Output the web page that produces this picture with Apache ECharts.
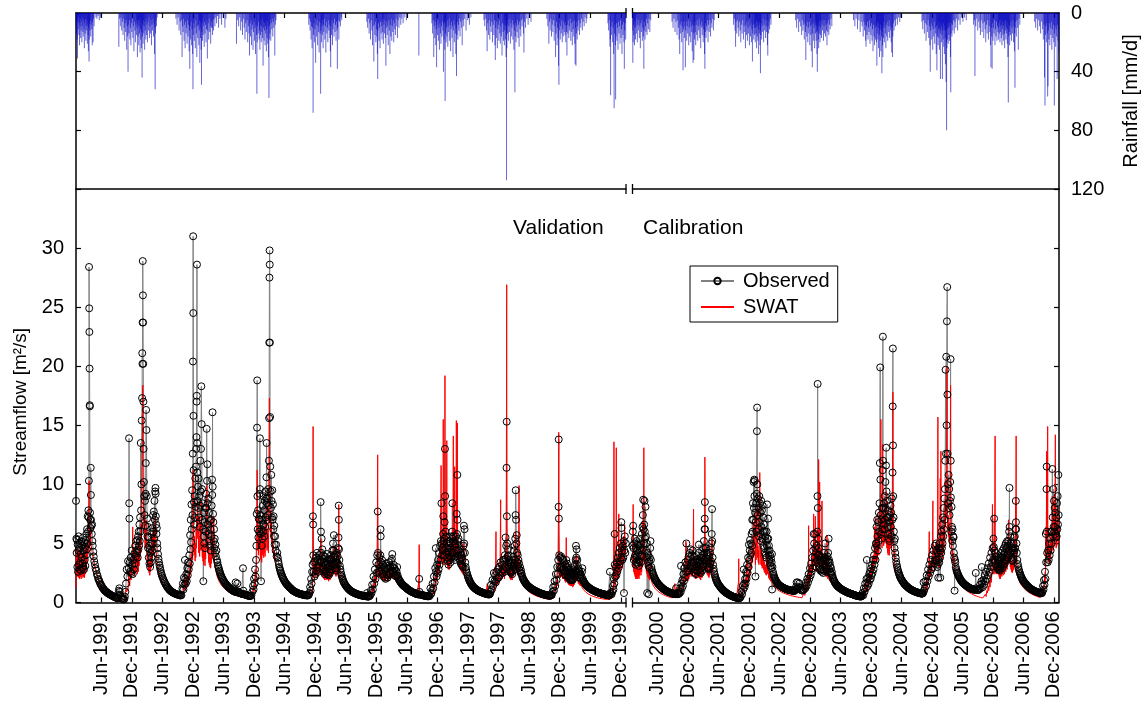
<!DOCTYPE html>
<html>
<head>
<meta charset="utf-8">
<script src="https://cdn.jsdelivr.net/npm/echarts@6/dist/echarts.min.js"></script>
<style>
html,body{margin:0;padding:0;background:#fff;}
#chart{width:1147px;height:704px;}
</style>
</head>
<body>
<div id="chart"></div>
<script>
// ---------------- DATA ----------------
const TICKS_VALIDATION = ['Jun-1991','Dec-1991','Jun-1992','Dec-1992','Jun-1993','Dec-1993','Jun-1994','Dec-1994','Jun-1995','Dec-1995','Jun-1996','Dec-1996','Jun-1997','Dec-1997','Jun-1998','Dec-1998','Jun-1999','Dec-1999'];
const TICKS_CALIBRATION = ['Jun-2000','Dec-2000','Jun-2001','Dec-2001','Jun-2002','Dec-2002','Jun-2003','Dec-2003','Jun-2004','Dec-2004','Jun-2005','Dec-2005','Jun-2006','Dec-2006'];
const FLOW_TICKS = [0,5,10,15,20,25,30];
const RAIN_TICKS = [0,40,80,120];
const YEARS_VALIDATION = [1991,1992,1993,1994,1995,1996,1997,1998,1999];
const YEARS_CALIBRATION = [2000,2001,2002,2003,2004,2005,2006];
const SERIES_NAMES = ['Observed','SWAT'];
const PERIOD_LABELS = ['Validation','Calibration'];

// Observed streamflow [day of year, m3/s]
const OBS_1991 = [[1,8.6],[3,5.4],[5,4.2],[7,5.3],[9,3.0],[11,4.9],[13,2.6],[15,4.4],[17,5.6],[19,3.2],[21,4.6],[23,2.8],[25,5.0],[27,3.4],[29,4.1],[31,2.7],[33,5.2],[35,3.8],[37,2.9],[39,4.8],[41,3.3],[43,5.5],[45,3.0],[47,4.4],[49,2.8],[51,5.1],[53,3.6],[55,4.7],[57,3.1],[59,5.3],[61,4.0],[63,5.8],[65,4.5],[67,6.2],[69,5.0],[71,7.3],[73,6.0],[75,7.8],[77,7.2],[78,10.3],[79,28.4],[80,24.9],[81,22.9],[82,19.8],[83,16.7],[84,16.6],[85,7.6],[86,7.0],[88,6.3],[89,11.4],[90,9.1],[91,7.0],[93,6.5],[95,5.8],[97,6.6],[99,5.2],[101,4.8],[104,4.3],[107,3.9],[110,3.5],[114,3.2],[118,2.9],[122,2.7],[126,2.4],[130,2.25],[134,2.0],[138,1.9],[142,1.75],[146,1.6],[150,1.5],[154,1.4],[158,1.3],[162,1.2],[166,1.15],[170,1.05],[174,1.0],[178,0.95],[182,0.9],[186,0.85],[190,0.8],[194,0.78],[198,0.72],[202,0.7],[206,0.66],[210,0.62],[214,0.6],[218,0.56],[222,0.54],[226,0.5],[230,0.48],[234,0.45],[238,0.42],[242,0.4],[246,0.37],[250,0.35],[254,0.6],[257,1.0],[260,1.2],[263,0.9],[266,0.6],[270,0.45],[274,0.35],[278,0.3],[282,0.28],[286,0.25],[290,0.3],[293,0.5],[296,0.9],[300,1.6],[304,2.8],[308,2.2],[312,3.5],[316,2.9],[318,13.9],[319,8.4],[320,7.1],[322,3.4],[325,2.6],[328,3.8],[331,2.5],[334,4.4],[337,3.2],[340,2.4],[343,3.6],[346,2.8],[349,4.1],[352,3.3],[355,4.8],[358,3.9],[361,5.2],[364,4.4]];
const OBS_1992 = [[1,4.2],[3,5.3],[5,3.8],[7,5.6],[9,4.5],[11,6.0],[13,4.8],[15,6.6],[17,5.2],[19,7.2],[21,6.0],[23,13.5],[25,7.8],[27,10.0],[29,15.4],[31,17.3],[32,21.1],[33,20.2],[34,23.7],[35,28.9],[36,26.0],[37,23.7],[38,20.2],[39,17.0],[40,13.0],[42,10.2],[44,9.0],[46,7.4],[48,8.6],[50,6.5],[52,9.2],[53,11.8],[55,16.3],[57,14.6],[59,9.0],[61,7.1],[63,5.6],[65,6.4],[67,4.6],[69,5.5],[71,3.8],[73,4.8],[75,3.3],[77,4.5],[79,3.0],[81,4.2],[83,3.4],[85,5.0],[87,3.8],[89,5.8],[91,4.4],[93,6.3],[95,5.0],[97,7.4],[99,6.0],[101,7.7],[103,5.4],[105,8.6],[107,7.0],[109,9.4],[111,9.7],[112,9.2],[113,7.3],[115,6.6],[117,5.8],[119,6.3],[121,5.0],[123,4.6],[126,4.1],[129,3.7],[132,3.4],[135,3.15],[138,2.95],[141,2.75],[144,2.55],[147,2.4],[150,2.25],[154,2.1],[158,1.95],[162,1.8],[166,1.7],[170,1.58],[174,1.48],[178,1.38],[182,1.3],[186,1.22],[190,1.15],[194,1.08],[198,1.02],[202,0.97],[206,0.93],[210,0.89],[214,0.85],[218,0.82],[222,0.79],[226,0.76],[230,0.74],[234,0.72],[238,0.7],[242,0.68],[246,0.66],[250,0.64],[254,0.62],[258,0.6],[262,0.6],[266,0.62],[272,1.2],[275,1.6],[278,1.1],[281,2.1],[284,1.5],[287,3.6],[289,2.0],[292,1.6],[295,2.4],[298,1.8],[301,2.9],[304,2.3],[307,3.4],[310,2.8],[313,4.0],[316,3.3],[318,5.7],[320,4.5],[322,7.0],[324,5.1],[326,8.3],[328,6.2],[330,9.5],[332,7.4],[334,12.6],[335,20.4],[336,31.0],[337,24.5],[338,15.8],[339,11.2],[341,8.5],[343,6.6],[345,9.0],[347,7.2],[349,10.5],[351,8.1],[353,11.5],[355,13.0],[356,14.0],[357,17.0],[358,17.5],[359,28.6],[360,13.5],[361,11.0],[363,8.6],[365,9.8]];
const OBS_1993 = [[1,8.0],[3,10.5],[5,7.2],[7,9.0],[9,6.4],[11,8.2],[13,12.0],[15,9.4],[17,13.0],[19,18.3],[21,15.1],[23,9.6],[25,7.0],[27,8.4],[29,6.2],[31,1.8],[33,5.6],[35,7.6],[37,5.0],[39,6.8],[41,4.6],[43,8.0],[45,6.0],[47,9.2],[49,8.0],[51,14.7],[53,10.3],[55,11.7],[57,8.4],[59,6.6],[61,8.8],[63,5.8],[65,7.6],[67,5.2],[69,6.9],[71,4.8],[73,6.2],[75,4.4],[77,7.0],[79,5.6],[81,8.2],[83,10.4],[84,9.1],[86,16.1],[87,9.8],[89,7.5],[91,6.8],[93,5.2],[95,6.2],[97,4.6],[99,5.4],[101,4.2],[103,4.9],[106,3.9],[109,4.4],[112,3.6],[115,3.4],[118,3.15],[121,3.0],[124,2.85],[127,2.7],[130,2.55],[133,2.42],[136,2.3],[139,2.2],[142,2.1],[146,2.0],[150,1.9],[154,1.8],[158,1.7],[162,1.62],[166,1.55],[170,1.48],[174,1.42],[178,1.36],[182,1.3],[186,1.25],[190,1.2],[194,1.15],[198,1.1],[202,1.06],[206,1.02],[210,0.98],[214,0.95],[218,0.92],[222,0.9],[224,1.7],[226,1.0],[230,0.88],[234,1.6],[236,0.95],[240,0.85],[244,0.83],[248,0.8],[252,0.78],[256,0.76],[260,0.74],[264,0.72],[268,2.9],[270,1.0],[274,0.7],[278,0.68],[282,0.66],[286,0.64],[290,0.62],[294,0.6],[298,0.58],[302,0.57],[306,0.56],[310,0.55],[314,0.56],[318,0.6],[324,0.9],[328,1.4],[331,1.1],[334,2.0],[337,1.6],[340,2.8],[343,2.2],[346,3.6],[348,4.8],[350,7.5],[352,14.8],[353,18.8],[354,9.0],[356,6.2],[358,7.8],[360,5.5],[362,7.1],[364,6.0]];
const OBS_1994 = [[1,7.0],[2,9.2],[4,13.9],[5,9.6],[7,7.4],[9,5.8],[11,1.8],[13,6.2],[15,4.8],[17,7.0],[19,5.4],[21,8.2],[23,6.0],[25,9.0],[27,6.6],[29,7.8],[31,5.6],[33,8.6],[35,6.4],[37,9.4],[39,7.2],[41,8.8],[43,10.6],[44,13.5],[46,8.4],[48,7.0],[50,8.8],[52,7.4],[54,9.6],[56,8.2],[58,12.0],[59,15.6],[60,22.0],[61,27.5],[62,29.8],[63,28.6],[64,22.0],[65,15.7],[66,11.5],[68,9.4],[70,8.0],[72,10.8],[74,8.6],[76,7.2],[78,9.5],[80,7.0],[82,8.3],[84,6.2],[86,7.3],[88,5.6],[90,6.5],[92,4.9],[95,5.6],[98,4.4],[101,4.9],[104,3.9],[108,4.2],[111,3.8],[114,3.5],[117,3.25],[120,3.0],[123,2.85],[126,2.7],[129,2.55],[132,2.42],[135,2.3],[138,2.2],[141,2.1],[144,2.0],[148,1.9],[152,1.8],[156,1.7],[160,1.62],[164,1.55],[168,1.48],[172,1.42],[176,1.36],[180,1.3],[184,1.25],[188,1.2],[192,1.14],[196,1.08],[200,1.03],[204,0.99],[208,0.95],[212,0.92],[216,0.89],[220,0.86],[224,0.83],[228,0.8],[232,0.78],[236,0.76],[240,0.75],[244,0.73],[248,0.71],[252,0.7],[256,0.68],[260,0.66],[264,0.65],[268,0.64],[272,0.62],[276,0.62],[280,0.61],[284,0.6],[288,0.6],[292,0.6],[296,0.65],[300,0.8],[304,1.3],[307,1.0],[310,2.0],[313,1.6],[316,2.6],[319,3.2],[321,7.3],[322,6.6],[323,4.0],[325,2.6],[327,3.4],[330,2.2],[333,3.5],[336,2.4],[339,3.8],[342,2.7],[345,4.2],[348,3.0],[351,3.6],[354,2.6],[357,4.0],[360,3.0],[363,3.4]];
const OBS_1995 = [[1,3.6],[2,8.5],[4,6.0],[6,4.2],[8,5.4],[10,3.4],[12,4.5],[14,3.0],[16,4.0],[18,2.8],[20,3.7],[22,2.6],[24,3.4],[26,2.4],[28,3.9],[30,2.7],[32,3.2],[34,2.5],[36,3.5],[38,2.6],[40,4.1],[42,2.9],[44,3.3],[46,2.4],[48,3.0],[50,2.3],[52,3.6],[54,2.6],[56,3.1],[58,2.5],[60,3.7],[62,2.8],[64,4.0],[66,3.1],[68,3.6],[70,2.8],[72,4.4],[74,3.3],[76,5.0],[78,3.8],[80,4.4],[81,5.7],[83,4.0],[85,3.2],[87,3.8],[89,2.9],[91,3.4],[93,2.7],[95,3.6],[97,2.9],[99,4.2],[101,3.4],[103,3.9],[105,3.2],[107,4.6],[109,5.5],[110,8.2],[111,7.0],[112,4.5],[114,3.6],[117,3.1],[120,2.8],[123,2.55],[126,2.35],[129,2.2],[132,2.05],[135,1.92],[138,1.8],[141,1.7],[144,1.62],[148,1.52],[152,1.44],[156,1.36],[160,1.28],[164,1.22],[168,1.16],[172,1.1],[176,1.05],[180,1.0],[184,0.96],[188,0.92],[192,0.89],[196,0.86],[200,0.83],[204,0.8],[208,0.78],[212,0.75],[216,0.73],[220,0.71],[224,0.69],[228,0.67],[232,0.65],[236,0.63],[240,0.62],[244,0.6],[248,0.59],[252,0.58],[256,0.57],[260,0.56],[264,0.55],[268,0.54],[272,0.53],[276,0.52],[279,0.8],[282,0.5],[286,0.5],[290,0.5],[294,0.55],[298,0.6],[302,1.0],[306,0.8],[310,1.5],[314,1.1],[318,2.2],[322,1.6],[326,2.8],[330,2.0],[334,3.4],[337,2.5],[340,4.0],[343,7.7],[345,4.2],[347,3.2],[350,2.6],[353,3.8],[356,2.7],[359,4.0],[360,6.2],[361,5.6],[363,3.4],[365,3.0]];
const OBS_1996 = [[1,2.8],[4,3.6],[7,2.4],[10,3.2],[13,2.2],[16,3.0],[19,2.1],[22,2.8],[25,2.0],[28,3.3],[31,2.4],[34,2.9],[37,2.1],[40,3.1],[43,2.3],[46,3.4],[49,2.5],[52,3.0],[55,2.4],[58,3.5],[61,2.7],[63,3.7],[65,4.1],[67,3.0],[70,2.6],[73,3.2],[76,2.5],[79,2.9],[82,2.3],[85,2.7],[88,2.2],[91,2.6],[94,3.0],[97,2.3],[100,2.1],[103,2.0],[106,1.92],[109,1.85],[112,1.78],[115,1.71],[118,1.65],[121,1.6],[124,1.55],[127,1.5],[130,1.46],[133,1.42],[136,1.38],[139,1.35],[142,1.32],[146,1.28],[150,1.22],[154,1.17],[158,1.12],[162,1.08],[166,1.04],[170,1.0],[174,0.97],[178,0.94],[182,0.9],[186,0.87],[190,0.84],[194,0.82],[198,0.8],[202,0.77],[206,0.75],[210,0.72],[214,0.7],[218,0.69],[222,0.68],[226,2.0],[228,0.9],[232,0.67],[236,0.66],[240,0.64],[244,0.62],[248,0.61],[252,0.6],[256,0.58],[260,0.57],[264,0.56],[268,0.55],[272,0.54],[276,0.53],[280,0.52],[284,0.53],[288,0.55],[293,1.2],[296,0.7],[299,0.8],[302,1.0],[306,1.6],[310,1.2],[314,2.2],[318,1.7],[322,2.9],[325,4.6],[327,2.6],[330,2.2],[333,3.2],[336,2.5],[339,3.6],[342,2.8],[345,4.2],[348,3.2],[351,4.8],[354,3.6],[356,5.2],[359,8.4],[361,5.0],[363,4.0],[365,4.6]];
const OBS_1997 = [[1,4.4],[3,5.8],[4,7.3],[6,5.2],[8,4.0],[10,5.4],[12,6.8],[14,13.0],[15,9.0],[17,6.0],[19,4.6],[21,5.6],[23,4.2],[25,5.0],[27,3.8],[29,4.6],[31,3.5],[33,4.3],[35,3.2],[37,4.8],[39,3.6],[41,5.2],[43,3.9],[45,4.6],[47,3.4],[49,5.0],[51,3.8],[53,5.6],[55,4.2],[57,6.0],[58,8.4],[60,5.4],[62,4.2],[64,5.6],[66,4.0],[68,5.2],[70,3.8],[72,4.8],[74,3.6],[76,5.0],[78,3.9],[80,5.6],[82,4.4],[84,7.5],[86,5.8],[88,10.8],[89,7.0],[91,5.2],[93,4.4],[95,5.4],[97,4.0],[99,4.8],[101,3.7],[103,4.5],[105,3.5],[107,4.2],[109,3.3],[111,4.0],[113,3.2],[115,3.8],[117,3.1],[119,3.6],[121,3.0],[123,4.2],[125,4.8],[127,6.5],[129,5.0],[131,6.2],[133,4.2],[135,3.4],[138,3.0],[141,2.75],[144,2.55],[147,2.4],[150,2.25],[153,2.12],[156,2.0],[159,1.9],[162,1.8],[165,1.72],[168,1.64],[171,1.56],[174,1.5],[177,1.44],[180,1.38],[184,1.32],[188,1.26],[192,1.21],[196,1.16],[200,1.12],[204,1.08],[208,1.04],[212,1.0],[216,0.97],[220,0.95],[224,0.92],[228,0.9],[232,0.87],[236,0.85],[240,0.83],[244,0.8],[248,0.78],[252,0.76],[256,0.75],[260,0.73],[264,0.72],[268,0.7],[272,0.69],[276,0.68],[280,0.68],[284,0.75],[286,0.9],[290,1.5],[294,1.1],[298,1.9],[302,1.4],[306,2.5],[310,1.8],[314,2.3],[318,1.7],[322,2.6],[326,2.0],[330,2.8],[334,2.1],[338,3.0],[342,2.3],[346,3.4],[350,2.6],[354,3.2],[358,2.5],[362,3.6],[365,2.8]];
const OBS_1998 = [[1,2.8],[3,3.6],[5,2.6],[7,4.0],[9,3.0],[11,5.5],[13,3.7],[15,4.8],[17,11.4],[18,15.3],[19,7.3],[21,5.0],[23,3.9],[25,4.5],[27,3.4],[29,4.0],[31,3.0],[33,3.6],[35,2.7],[37,3.3],[39,2.6],[41,3.2],[43,2.5],[45,3.4],[47,2.6],[49,3.1],[51,2.4],[53,3.6],[55,2.7],[57,3.9],[59,3.0],[61,4.4],[63,3.3],[65,4.8],[67,3.6],[69,5.4],[71,7.4],[72,9.5],[74,7.0],[76,5.0],[78,5.7],[80,4.2],[82,3.4],[84,4.0],[86,3.1],[88,3.6],[90,2.9],[92,3.3],[95,2.7],[98,3.0],[101,2.5],[104,2.7],[107,2.45],[110,2.25],[113,2.1],[116,2.0],[119,1.92],[122,1.84],[125,1.77],[128,1.7],[131,1.64],[134,1.58],[137,1.52],[140,1.47],[144,1.42],[148,1.37],[152,1.32],[156,1.27],[160,1.23],[164,1.19],[168,1.15],[172,1.11],[176,1.08],[180,1.05],[184,1.02],[188,0.99],[192,0.96],[196,0.93],[200,0.9],[204,0.88],[208,0.85],[212,0.83],[216,0.8],[220,0.78],[224,0.76],[228,0.74],[232,0.72],[236,0.7],[240,0.68],[244,0.67],[248,0.65],[252,0.63],[256,0.62],[260,0.61],[264,0.6],[268,0.59],[272,0.58],[276,0.58],[280,0.59],[284,0.6],[288,0.65],[292,0.9],[296,1.3],[300,1.0],[304,1.8],[308,1.4],[312,2.4],[316,1.9],[320,3.0],[323,2.4],[326,3.6],[328,8.1],[329,13.8],[330,7.1],[332,4.0],[334,3.0],[337,3.8],[340,2.9],[343,3.9],[346,3.0],[349,3.7],[352,2.8],[355,3.6],[358,2.7],[361,3.4],[364,2.6]];
const OBS_1999 = [[1,2.4],[3,3.2],[5,2.3],[7,3.0],[9,3.6],[11,2.6],[13,3.3],[15,2.4],[17,3.0],[19,2.2],[21,2.8],[23,2.1],[25,2.7],[27,2.0],[29,2.6],[31,2.0],[33,2.5],[35,1.9],[37,2.4],[39,1.9],[41,2.6],[43,2.0],[45,2.4],[47,1.9],[49,2.5],[51,2.0],[53,2.8],[55,2.2],[57,3.0],[59,2.4],[61,3.2],[63,2.6],[65,3.6],[67,4.8],[69,3.8],[71,4.5],[73,3.2],[75,3.6],[77,2.8],[79,2.5],[82,2.9],[85,2.3],[88,2.6],[91,2.1],[94,2.4],[97,2.0],[100,2.2],[103,2.6],[105,2.9],[107,2.0],[110,1.86],[113,1.78],[116,1.71],[119,1.64],[122,1.57],[125,1.51],[128,1.46],[131,1.42],[134,1.38],[137,1.34],[140,1.3],[144,1.26],[148,1.22],[152,1.18],[156,1.14],[160,1.1],[164,1.07],[168,1.04],[172,1.01],[176,0.98],[180,0.95],[184,0.93],[188,0.9],[192,0.88],[196,0.86],[200,0.84],[204,0.82],[208,0.8],[212,0.78],[216,0.76],[220,0.75],[224,0.73],[228,0.71],[232,0.7],[236,0.69],[240,0.67],[244,0.66],[248,0.65],[252,0.63],[256,0.62],[260,0.61],[264,0.6],[268,0.6],[270,2.6],[272,0.8],[276,0.72],[280,0.7],[284,0.9],[288,1.4],[291,1.1],[294,2.0],[296,1.6],[298,5.8],[299,3.2],[302,2.2],[305,3.0],[308,2.3],[311,3.4],[314,2.6],[317,3.8],[320,2.9],[323,4.2],[326,3.2],[329,4.6],[332,3.5],[335,5.0],[337,3.8],[338,6.8],[339,6.3],[341,4.4],[344,3.6],[347,4.8],[350,3.8],[353,5.2],[354,0.8],[356,4.4],[359,5.6],[362,4.2],[365,5.0]];
const OBS_2000 = [[1,4.8],[3,6.0],[5,6.5],[7,4.6],[9,3.6],[11,5.0],[13,3.8],[15,5.4],[17,4.0],[19,3.2],[21,4.6],[23,3.4],[25,5.2],[27,3.9],[29,4.4],[31,3.3],[33,4.9],[35,3.6],[37,4.2],[39,3.1],[41,4.8],[43,3.5],[45,5.4],[47,4.0],[49,4.6],[51,3.4],[53,5.0],[55,3.9],[57,5.8],[59,4.4],[61,6.4],[63,7.4],[65,8.7],[67,6.2],[69,5.0],[71,6.6],[73,8.6],[75,6.0],[77,5.4],[79,8.1],[81,5.6],[83,4.4],[85,5.0],[87,3.8],[89,0.8],[91,4.2],[93,3.4],[95,4.0],[97,3.1],[99,0.7],[101,3.5],[103,2.9],[105,3.8],[107,4.6],[109,5.2],[111,3.6],[114,3.0],[117,2.75],[120,2.58],[123,2.45],[126,2.33],[129,2.22],[132,2.12],[135,2.03],[138,1.95],[141,1.87],[144,1.8],[148,1.72],[152,1.64],[156,1.56],[160,1.5],[164,1.44],[168,1.38],[172,1.32],[176,1.27],[180,1.22],[184,1.17],[188,1.13],[192,1.09],[196,1.05],[200,1.01],[204,0.98],[208,0.95],[212,0.92],[216,0.9],[220,0.87],[224,0.85],[228,0.83],[232,0.81],[236,0.79],[240,0.77],[244,0.75],[248,0.73],[252,0.72],[256,0.71],[258,0.7],[262,1.2],[265,0.8],[268,0.72],[272,0.7],[276,0.72],[280,0.75],[283,0.8],[286,1.2],[290,0.9],[292,3.1],[294,1.6],[297,1.2],[300,1.9],[303,1.4],[306,2.4],[309,1.8],[312,2.9],[315,2.1],[318,3.4],[321,2.6],[324,5.0],[326,3.2],[329,2.6],[332,3.6],[335,2.7],[338,3.9],[341,2.9],[344,4.2],[347,3.1],[350,4.5],[353,3.3],[356,4.0],[359,3.0],[362,4.4],[365,3.4]];
const OBS_2001 = [[1,3.4],[3,2.6],[5,3.9],[7,2.8],[9,3.5],[11,2.5],[13,3.2],[15,2.4],[17,3.6],[19,2.7],[21,4.0],[23,3.0],[25,3.6],[27,2.7],[29,3.4],[31,4.2],[33,4.9],[35,3.4],[37,2.8],[39,3.6],[41,2.6],[43,3.3],[45,2.5],[47,3.8],[49,2.9],[51,3.5],[53,2.7],[55,4.0],[57,3.1],[59,4.6],[61,3.6],[63,5.2],[65,4.2],[67,6.2],[68,7.1],[69,8.5],[70,6.2],[72,4.6],[74,3.8],[76,4.6],[78,3.5],[80,4.2],[82,3.2],[84,4.0],[86,3.0],[88,3.7],[90,2.9],[92,3.5],[94,2.8],[96,3.9],[98,3.0],[100,4.2],[102,3.3],[104,4.6],[106,3.5],[108,5.0],[110,5.8],[112,7.9],[113,5.2],[115,3.8],[118,3.2],[121,2.85],[124,2.6],[127,2.4],[130,2.22],[133,2.08],[136,1.95],[139,1.84],[142,1.74],[145,1.65],[148,1.57],[152,1.5],[156,1.42],[160,1.34],[164,1.27],[168,1.2],[172,1.13],[176,1.07],[180,1.02],[184,0.97],[188,0.92],[192,0.87],[196,0.83],[200,0.79],[204,0.75],[208,0.72],[212,0.68],[216,0.65],[220,0.62],[224,0.59],[228,0.56],[232,0.53],[236,0.51],[240,0.49],[244,0.47],[248,0.45],[252,0.43],[256,0.41],[260,0.4],[264,0.38],[268,0.37],[272,0.36],[276,0.36],[280,0.4],[284,0.5],[288,0.9],[292,0.7],[296,1.4],[299,1.1],[302,2.8],[304,1.6],[307,1.3],[310,2.0],[313,1.6],[316,2.6],[319,2.0],[322,3.2],[325,2.5],[328,3.8],[331,3.0],[333,4.9],[335,3.6],[338,4.4],[340,5.3],[342,4.0],[345,5.0],[347,4.2],[349,5.8],[351,4.8],[353,7.0],[355,6.0],[357,8.4],[359,7.0],[361,10.2],[363,8.0],[365,10.4]];
const OBS_2002 = [[1,9.0],[3,10.3],[5,7.6],[7,2.2],[9,6.8],[11,8.4],[13,6.0],[15,9.2],[16,14.5],[17,16.5],[18,10.0],[20,7.4],[22,8.8],[24,6.2],[26,8.0],[28,5.6],[30,9.0],[32,6.8],[34,8.4],[36,5.8],[38,7.6],[40,5.2],[42,8.6],[44,6.4],[46,7.8],[48,5.4],[50,8.2],[52,6.0],[54,7.2],[56,4.8],[58,6.6],[60,4.6],[62,6.0],[64,4.2],[66,5.6],[68,4.0],[70,5.2],[72,3.8],[74,6.0],[76,4.8],[77,8.3],[79,5.4],[81,4.4],[83,7.1],[84,5.4],[86,4.0],[88,4.8],[90,3.6],[92,4.4],[94,3.3],[96,4.0],[98,3.1],[100,3.7],[102,2.9],[104,3.4],[106,4.1],[107,1.1],[109,3.0],[112,2.6],[115,2.4],[118,2.25],[121,2.12],[124,2.0],[127,1.92],[130,1.84],[133,1.76],[136,1.69],[139,1.63],[142,1.58],[146,1.52],[150,1.47],[154,1.43],[158,1.39],[162,1.35],[166,1.31],[170,1.28],[174,1.25],[178,1.22],[182,1.19],[186,1.17],[190,1.14],[194,1.12],[198,1.1],[202,1.08],[206,1.07],[210,1.05],[214,1.04],[218,1.03],[222,1.02],[226,1.01],[230,1.0],[234,0.99],[238,0.98],[242,0.98],[246,1.1],[250,1.3],[254,1.7],[258,1.2],[262,1.7],[266,1.3],[270,1.6],[274,1.2],[278,1.08],[282,1.05],[286,1.02],[290,1.0],[294,1.05],[298,1.1],[302,1.4],[306,1.2],[310,1.7],[314,1.4],[318,2.0],[322,1.7],[326,2.4],[330,2.0],[334,2.9],[338,2.3],[341,3.3],[344,2.6],[347,3.8],[350,2.9],[353,4.4],[356,5.8],[359,5.0],[362,3.8],[365,5.8]];
const OBS_2003 = [[1,4.6],[3,3.4],[5,4.2],[7,3.0],[9,4.8],[11,3.6],[13,6.0],[14,9.0],[15,18.5],[16,8.0],[18,5.4],[20,4.0],[22,4.6],[24,3.3],[26,4.0],[28,2.9],[30,3.6],[32,2.7],[34,3.9],[36,2.8],[38,3.4],[40,2.6],[42,3.8],[44,2.8],[46,3.3],[48,2.5],[50,3.6],[52,2.7],[54,4.2],[56,3.1],[58,3.8],[60,5.0],[62,3.6],[64,3.0],[66,3.7],[68,2.8],[70,3.5],[72,2.6],[74,3.9],[76,2.9],[78,4.2],[80,3.4],[81,5.4],[83,3.6],[85,2.8],[87,3.4],[89,2.6],[91,3.1],[93,2.5],[95,2.9],[97,2.4],[100,2.6],[103,2.3],[106,2.12],[109,1.98],[112,1.87],[115,1.78],[118,1.7],[121,1.63],[124,1.57],[127,1.51],[130,1.46],[133,1.41],[136,1.37],[139,1.33],[142,1.29],[146,1.24],[150,1.2],[154,1.16],[158,1.12],[162,1.08],[166,1.05],[170,1.02],[174,0.99],[178,0.96],[182,0.93],[186,0.9],[190,0.87],[194,0.85],[198,0.82],[202,0.8],[206,0.78],[210,0.76],[214,0.74],[218,0.72],[222,0.7],[226,0.68],[230,0.66],[234,0.64],[238,0.62],[242,0.6],[246,0.58],[250,0.56],[254,0.55],[258,0.54],[262,0.53],[266,0.52],[270,0.5],[274,0.5],[278,0.52],[281,0.6],[284,0.8],[288,0.6],[292,1.2],[296,0.9],[300,1.6],[304,1.2],[308,2.0],[310,3.6],[312,1.7],[315,1.4],[318,2.1],[321,1.6],[324,2.4],[327,1.9],[330,2.6],[333,2.0],[336,2.9],[338,2.3],[341,3.2],[344,2.5],[347,3.6],[350,2.8],[353,4.0],[356,3.2],[359,4.6],[362,3.6],[365,5.0]];
const OBS_2004 = [[1,5.0],[3,6.4],[5,4.8],[7,7.0],[9,5.6],[11,4.4],[13,6.8],[15,5.2],[17,7.6],[19,6.0],[21,8.4],[23,11.8],[25,19.9],[26,10.4],[28,7.4],[30,5.8],[32,7.0],[34,5.4],[36,8.0],[38,6.2],[40,11.2],[41,22.5],[42,12.0],[44,8.0],[46,6.6],[48,8.4],[50,6.2],[52,9.0],[54,7.0],[56,10.2],[58,8.0],[60,11.6],[61,13.1],[63,9.4],[65,7.2],[67,8.6],[69,6.4],[71,7.8],[73,5.8],[75,7.2],[77,5.4],[79,6.8],[81,5.2],[83,7.4],[85,5.8],[87,8.2],[89,6.4],[91,7.6],[93,5.6],[95,8.8],[97,7.0],[99,11.0],[100,16.6],[101,21.5],[102,13.3],[103,9.0],[105,7.2],[107,6.0],[109,5.2],[111,4.6],[113,5.4],[115,4.2],[118,3.8],[121,3.45],[124,3.2],[127,3.0],[130,2.8],[133,2.64],[136,2.5],[139,2.38],[142,2.26],[145,2.15],[148,2.05],[152,1.95],[156,1.86],[160,1.77],[164,1.69],[168,1.61],[172,1.54],[176,1.48],[180,1.42],[184,1.37],[188,1.32],[192,1.27],[196,1.22],[200,1.18],[204,1.14],[208,1.1],[212,1.07],[216,1.04],[220,1.01],[224,0.98],[228,0.95],[232,0.93],[236,0.91],[240,0.89],[244,0.87],[248,0.85],[252,0.83],[256,0.81],[260,0.79],[264,0.78],[268,0.77],[272,0.76],[276,0.75],[280,0.78],[282,0.8],[285,1.7],[288,1.0],[292,1.2],[296,1.8],[300,1.4],[304,2.3],[308,1.8],[312,2.8],[316,2.2],[320,3.2],[324,2.5],[328,3.6],[332,2.8],[336,4.0],[340,3.0],[344,4.4],[348,3.3],[352,4.8],[356,3.6],[360,5.0],[363,3.6],[365,4.4]];
const OBS_2005 = [[1,3.0],[3,4.2],[5,3.2],[7,2.1],[9,3.6],[11,4.6],[13,3.4],[15,5.0],[17,3.8],[19,2.1],[21,4.4],[23,5.6],[25,4.2],[27,6.0],[29,4.6],[31,6.6],[33,5.0],[35,7.2],[37,5.6],[39,8.0],[41,6.2],[43,8.8],[45,7.0],[47,9.6],[49,12.0],[51,19.7],[53,12.6],[55,20.8],[57,15.0],[59,23.8],[61,26.7],[62,17.6],[63,12.6],[65,10.0],[67,8.4],[69,10.8],[71,8.0],[73,9.6],[75,7.4],[77,8.6],[79,10.2],[81,20.6],[82,12.0],[83,8.9],[85,6.0],[87,8.1],[89,6.4],[91,5.2],[93,6.2],[95,4.8],[97,5.6],[99,5.5],[101,4.2],[103,3.8],[105,1.0],[107,3.6],[109,3.4],[112,3.0],[115,2.8],[118,2.65],[121,2.52],[124,2.42],[127,2.32],[130,2.22],[133,2.14],[136,2.06],[139,1.98],[142,1.91],[145,1.84],[148,1.78],[152,1.72],[156,1.66],[160,1.6],[164,1.55],[168,1.5],[172,1.45],[176,1.41],[180,1.37],[184,1.33],[188,1.29],[192,1.26],[196,1.23],[200,1.2],[204,1.17],[208,1.14],[212,1.12],[216,1.1],[220,1.08],[224,1.07],[228,1.1],[232,2.5],[234,1.2],[238,1.08],[242,1.06],[246,1.05],[250,1.08],[254,1.2],[258,1.5],[262,1.2],[266,1.8],[268,3.0],[270,1.6],[274,1.3],[278,1.9],[282,1.5],[286,2.3],[290,1.8],[294,2.6],[298,2.0],[302,2.9],[306,2.3],[310,3.3],[314,2.6],[318,3.8],[322,3.0],[326,4.2],[330,3.4],[333,4.6],[336,3.6],[338,5.4],[340,4.7],[342,7.1],[344,4.4],[347,3.6],[350,4.2],[353,3.2],[356,3.9],[359,3.0],[362,3.6],[365,2.8]];
const OBS_2006 = [[1,3.0],[3,3.8],[5,2.9],[7,3.6],[9,2.8],[11,3.4],[13,2.7],[15,3.8],[17,3.0],[19,4.2],[21,3.2],[23,3.8],[25,2.9],[27,4.4],[29,3.4],[31,4.0],[33,3.1],[35,4.6],[37,3.5],[39,4.2],[41,3.3],[43,4.8],[45,3.6],[47,5.0],[49,3.8],[51,4.6],[53,3.6],[55,5.2],[57,4.0],[59,4.8],[61,3.8],[63,5.2],[65,4.4],[67,6.0],[69,9.7],[70,6.4],[72,4.8],[74,5.6],[76,4.2],[78,5.0],[80,3.8],[82,4.6],[84,3.6],[86,4.4],[88,3.5],[90,4.6],[92,3.7],[94,5.0],[96,4.2],[97,5.5],[99,4.4],[101,5.6],[103,4.6],[105,6.2],[107,8.6],[108,6.8],[109,6.2],[111,5.0],[113,4.2],[116,3.6],[119,3.25],[122,3.0],[125,2.8],[128,2.64],[131,2.5],[134,2.38],[137,2.26],[140,2.16],[143,2.07],[146,1.98],[149,1.9],[152,1.83],[156,1.75],[160,1.68],[164,1.61],[168,1.54],[172,1.48],[176,1.42],[180,1.36],[184,1.31],[188,1.26],[192,1.21],[196,1.17],[200,1.13],[204,1.09],[208,1.06],[212,1.03],[216,1.0],[220,0.97],[224,0.94],[228,0.92],[232,0.9],[236,0.88],[240,0.86],[244,0.84],[248,0.82],[252,0.8],[256,0.79],[260,0.78],[264,0.8],[266,0.9],[270,1.4],[273,1.1],[276,1.9],[279,1.5],[282,2.6],[285,2.0],[287,5.8],[289,3.4],[291,9.6],[292,11.5],[293,6.0],[295,4.2],[298,3.4],[301,4.4],[304,3.6],[307,5.0],[310,4.0],[313,5.4],[316,4.4],[319,6.0],[322,5.0],[324,6.0],[326,11.3],[328,7.2],[330,5.6],[332,9.6],[334,6.4],[336,8.6],[338,6.0],[340,8.0],[342,6.4],[344,7.6],[346,5.8],[348,5.5],[350,7.2],[352,5.6],[354,8.4],[356,6.2],[358,9.0],[360,6.6],[362,10.8],[364,7.4]];

// SWAT simulated streamflow [day of year, m3/s]
const SWAT_1991 = [[1,1.2],[2,4.7],[4,3.6],[6,2.4],[8,3.9],[10,2.2],[12,2.8],[14,4.4],[16,2.5],[18,2.1],[20,3.3],[22,2.0],[24,4.1],[26,2.6],[28,2.2],[30,3.0],[32,2.0],[34,4.5],[36,2.7],[38,2.3],[40,3.6],[42,2.1],[44,2.9],[46,2.2],[48,4.0],[50,2.5],[52,2.1],[54,3.2],[56,2.4],[58,4.6],[60,3.0],[62,2.6],[64,4.2],[66,3.3],[68,5.0],[70,3.8],[72,4.4],[74,5.1],[76,4.3],[78,6.0],[79,10.3],[80,7.9],[81,6.2],[83,5.6],[85,5.2],[87,4.9],[89,6.4],[91,5.0],[94,4.6],[97,4.3],[100,4.0],[104,3.7],[108,3.4],[112,3.1],[117,2.8],[122,2.5],[128,2.2],[134,1.9],[141,1.6],[148,1.4],[156,1.2],[165,1.0],[175,0.85],[185,0.75],[196,0.65],[208,0.55],[220,0.48],[232,0.42],[244,0.36],[256,0.3],[268,0.25],[280,0.2],[292,0.18],[298,0.2],[300,1.1],[304,0.9],[308,1.2],[312,1.0],[316,2.6],[318,1.8],[322,1.4],[326,2.9],[330,1.9],[334,2.6],[337,3.4],[340,6.4],[342,3.3],[345,2.4],[348,3.1],[351,2.2],[354,3.8],[357,2.6],[360,4.3],[363,3.2]];
const SWAT_1992 = [[1,3.2],[3,2.4],[5,4.0],[7,3.0],[9,2.6],[11,4.4],[13,3.1],[15,5.2],[17,3.6],[19,4.5],[21,5.8],[23,4.2],[25,6.6],[27,5.0],[29,7.4],[31,10.5],[33,14.0],[35,18.4],[36,14.8],[37,11.0],[39,8.8],[41,7.0],[43,6.0],[45,7.6],[47,5.4],[49,4.6],[51,6.2],[53,5.0],[55,7.0],[57,5.6],[59,4.4],[61,3.7],[63,3.2],[65,4.2],[67,3.0],[69,2.7],[71,3.6],[73,2.5],[75,3.0],[77,2.3],[79,3.4],[81,2.6],[83,4.0],[85,2.9],[87,4.8],[89,3.3],[91,5.4],[93,3.8],[95,4.4],[97,5.9],[99,4.2],[101,6.3],[103,4.6],[105,5.5],[107,4.8],[109,6.6],[111,7.2],[113,5.2],[115,4.4],[118,3.8],[121,3.4],[125,3.0],[129,2.7],[134,2.4],[140,2.1],[146,1.85],[153,1.6],[161,1.4],[170,1.2],[180,1.05],[190,0.92],[201,0.8],[213,0.7],[225,0.62],[237,0.55],[249,0.5],[261,0.45],[270,0.42],[273,0.9],[276,0.7],[280,1.4],[283,1.0],[287,2.0],[290,1.2],[294,1.7],[298,1.3],[302,2.2],[306,1.6],[310,2.5],[314,1.9],[318,3.4],[321,2.4],[324,4.1],[327,2.9],[330,5.0],[333,3.6],[335,7.5],[336,11.2],[338,7.0],[340,5.2],[342,4.0],[344,5.6],[346,4.2],[348,3.5],[350,5.0],[352,3.8],[354,6.2],[356,4.6],[358,7.3],[360,5.4],[362,8.6],[364,5.8]];
const SWAT_1993 = [[1,6.0],[3,4.2],[5,7.3],[7,4.8],[9,3.9],[11,5.6],[13,4.4],[15,6.8],[17,5.0],[19,8.6],[21,6.0],[23,4.6],[25,3.8],[27,5.2],[29,3.5],[31,4.4],[33,3.2],[35,5.0],[37,3.6],[39,4.2],[41,3.1],[43,4.8],[45,3.7],[47,6.2],[49,4.5],[51,9.9],[53,6.6],[55,5.0],[57,4.2],[59,5.8],[61,4.0],[63,3.4],[65,4.6],[67,3.2],[69,4.1],[71,3.0],[73,3.8],[75,2.9],[77,4.4],[79,3.3],[81,7.3],[83,5.0],[85,4.0],[87,5.4],[89,4.2],[91,3.6],[93,7.3],[95,4.6],[97,3.7],[100,3.2],[103,2.9],[107,2.6],[111,2.35],[116,2.1],[122,1.9],[129,1.7],[137,1.5],[146,1.35],[156,1.2],[167,1.05],[179,0.92],[192,0.8],[206,0.7],[220,0.62],[234,0.55],[248,0.5],[262,0.45],[276,0.4],[290,0.36],[304,0.33],[316,0.32],[322,0.8],[326,0.6],[330,1.3],[334,0.9],[338,1.9],[341,1.4],[344,2.8],[347,2.0],[350,4.2],[352,8.0],[353,11.2],[355,6.4],[357,4.4],[359,5.8],[361,4.0],[363,5.2]];
const SWAT_1994 = [[1,5.0],[3,7.0],[5,4.6],[7,3.8],[9,5.6],[11,3.6],[13,4.8],[15,3.4],[17,5.8],[19,4.0],[21,6.4],[23,4.4],[25,5.2],[27,3.8],[29,6.0],[31,4.2],[33,5.4],[35,3.9],[37,6.6],[39,4.6],[41,5.8],[43,8.2],[45,5.4],[47,4.4],[49,6.2],[51,4.6],[53,5.6],[55,4.2],[57,7.0],[59,9.8],[60,12.0],[61,17.3],[62,11.6],[63,9.0],[65,7.2],[67,6.0],[69,7.8],[71,5.6],[73,6.8],[75,5.0],[77,6.0],[79,4.6],[81,5.4],[83,4.2],[85,4.8],[88,3.8],[91,4.3],[94,3.5],[97,3.8],[100,3.2],[104,2.95],[108,2.7],[113,2.45],[119,2.2],[126,2.0],[134,1.8],[143,1.6],[153,1.42],[164,1.26],[176,1.1],[189,0.95],[203,0.83],[217,0.72],[231,0.63],[245,0.55],[259,0.48],[273,0.42],[287,0.37],[300,0.34],[310,0.33],[314,1.0],[317,0.8],[320,2.4],[322,14.9],[323,6.0],[325,3.6],[327,2.6],[330,3.3],[333,2.3],[336,2.9],[339,2.1],[342,3.4],[345,2.4],[348,3.1],[351,2.3],[354,3.6],[357,2.5],[360,3.2],[363,2.4]];
const SWAT_1995 = [[1,2.8],[2,5.4],[4,3.6],[6,2.6],[8,3.4],[10,2.4],[12,3.1],[14,2.2],[16,2.9],[18,2.1],[20,2.7],[22,2.0],[24,2.6],[26,1.9],[28,3.0],[30,2.1],[32,2.5],[34,1.9],[36,2.8],[38,2.0],[40,3.2],[42,2.2],[44,2.6],[46,1.9],[48,2.4],[50,1.8],[52,2.9],[54,2.0],[56,2.5],[58,1.9],[60,3.0],[62,2.2],[64,3.3],[66,2.4],[68,2.9],[70,2.2],[72,3.6],[74,2.6],[76,4.2],[78,3.0],[80,3.5],[82,4.6],[84,3.0],[86,2.5],[88,3.0],[90,2.3],[92,2.8],[94,2.2],[96,2.9],[98,2.3],[100,3.4],[102,2.6],[104,3.1],[106,2.5],[108,3.8],[110,8.3],[111,5.0],[113,3.4],[116,2.8],[119,2.4],[123,2.1],[128,1.85],[134,1.62],[141,1.42],[149,1.25],[158,1.1],[168,0.96],[179,0.84],[191,0.73],[204,0.64],[218,0.56],[232,0.49],[246,0.43],[260,0.38],[274,0.34],[288,0.31],[298,0.3],[302,0.7],[306,0.5],[310,1.2],[314,0.8],[318,1.6],[322,1.1],[326,2.2],[330,1.5],[334,2.8],[337,1.9],[340,3.4],[343,12.5],[344,5.2],[346,3.0],[349,2.2],[352,3.0],[355,2.1],[358,3.3],[360,4.4],[362,2.6],[364,2.2]];
const SWAT_1996 = [[1,2.2],[4,2.8],[7,2.0],[10,2.6],[13,1.9],[16,2.5],[19,1.8],[22,2.3],[25,1.8],[28,2.7],[31,2.0],[34,2.4],[37,1.8],[40,2.6],[43,2.0],[46,2.8],[49,2.1],[52,2.5],[55,2.0],[58,2.9],[61,2.2],[63,3.0],[65,2.6],[67,2.2],[70,2.0],[73,2.6],[76,2.0],[79,2.4],[82,1.9],[85,2.2],[88,1.8],[91,2.1],[94,2.5],[97,1.9],[100,1.7],[105,1.55],[110,1.42],[116,1.3],[123,1.18],[131,1.06],[140,0.95],[150,0.85],[161,0.75],[173,0.66],[186,0.58],[200,0.5],[214,0.44],[222,0.42],[225,2.0],[226,4.9],[227,1.4],[229,0.6],[240,0.45],[254,0.4],[268,0.36],[282,0.33],[294,0.32],[300,0.6],[304,0.5],[308,1.0],[312,0.8],[316,1.6],[320,1.2],[324,2.3],[327,1.7],[330,2.8],[333,2.0],[336,3.3],[339,2.4],[342,3.8],[345,2.7],[348,4.4],[351,3.0],[354,5.2],[357,11.6],[358,4.6],[360,3.6],[362,5.0],[364,3.8]];
const SWAT_1997 = [[1,3.2],[3,5.6],[4,15.5],[5,6.0],[7,4.0],[9,3.2],[11,4.6],[13,8.0],[14,19.2],[15,8.2],[17,5.0],[19,3.6],[21,4.4],[23,3.2],[25,13.7],[26,6.0],[28,3.8],[30,3.0],[32,3.8],[34,2.8],[36,4.2],[38,3.0],[40,3.6],[42,2.8],[44,4.4],[46,3.2],[48,5.0],[50,3.6],[52,4.6],[54,3.4],[56,5.2],[58,3.8],[60,6.2],[62,4.4],[64,14.1],[65,6.8],[67,4.6],[69,3.6],[71,4.6],[72,11.5],[73,5.4],[75,4.0],[77,5.2],[79,3.8],[81,6.4],[82,15.4],[83,7.0],[85,5.4],[87,4.4],[88,15.2],[89,6.2],[91,4.8],[93,3.8],[95,4.6],[97,3.4],[99,4.0],[101,3.1],[103,3.7],[105,2.9],[107,3.4],[109,2.7],[111,3.2],[113,2.6],[115,3.0],[117,2.5],[119,2.8],[121,2.4],[123,3.2],[125,3.8],[127,5.0],[129,3.6],[131,4.2],[133,3.0],[136,2.6],[140,2.3],[145,2.05],[151,1.8],[158,1.6],[166,1.4],[175,1.24],[185,1.08],[196,0.94],[208,0.82],[220,0.72],[232,0.63],[244,0.55],[256,0.5],[264,0.48],[267,1.6],[269,0.7],[278,0.45],[288,0.42],[296,0.5],[300,0.9],[304,0.7],[308,1.3],[312,1.0],[316,1.8],[319,6.0],[320,2.0],[323,1.4],[327,2.0],[331,1.5],[335,2.3],[339,1.7],[343,2.6],[347,8.7],[348,3.0],[351,2.1],[354,2.8],[357,2.0],[360,3.1],[363,2.2]];
const SWAT_1998 = [[1,2.2],[3,3.0],[5,2.0],[7,3.4],[9,2.3],[11,4.2],[13,2.8],[15,3.8],[16,10.2],[17,18.0],[18,26.9],[19,8.0],[21,4.2],[23,3.0],[25,3.7],[27,2.6],[29,3.2],[31,2.3],[33,2.9],[35,2.1],[37,2.7],[39,2.0],[41,2.6],[43,1.9],[45,2.7],[47,2.0],[49,2.4],[51,1.9],[53,2.8],[55,2.1],[57,3.0],[59,2.3],[61,3.5],[63,2.6],[65,3.9],[67,2.9],[69,4.4],[71,6.0],[73,3.8],[75,2.9],[78,3.6],[80,2.7],[82,3.3],[84,2.5],[86,3.0],[88,4.4],[90,6.6],[92,9.9],[93,4.0],[95,2.6],[98,2.2],[101,2.0],[105,1.8],[110,1.62],[116,1.46],[123,1.3],[131,1.16],[140,1.03],[150,0.91],[161,0.8],[173,0.7],[186,0.61],[200,0.53],[214,0.46],[228,0.4],[242,0.35],[256,0.31],[270,0.28],[284,0.27],[292,0.5],[296,0.4],[300,0.9],[304,0.7],[308,1.4],[312,1.0],[316,1.9],[320,1.4],[323,2.4],[326,3.4],[328,10.2],[329,14.4],[330,6.0],[332,3.0],[334,2.2],[337,2.8],[340,2.1],[343,2.9],[346,2.2],[349,2.7],[352,2.0],[355,2.6],[358,2.0],[361,2.5],[364,2.0]];
const SWAT_1999 = [[1,1.8],[3,2.4],[5,1.7],[7,2.3],[9,5.5],[10,2.6],[12,1.9],[14,2.4],[16,1.7],[18,2.2],[20,1.6],[22,2.1],[24,1.5],[26,2.0],[28,1.5],[30,1.9],[32,1.4],[34,1.8],[36,1.4],[38,1.9],[40,1.4],[42,1.8],[44,1.4],[46,1.7],[48,1.3],[50,1.8],[52,1.4],[54,2.0],[56,1.5],[58,2.2],[60,1.7],[62,2.4],[64,1.9],[66,2.8],[68,3.9],[70,2.4],[71,4.0],[73,2.2],[75,1.8],[78,2.1],[81,1.6],[84,1.9],[87,1.5],[90,1.7],[93,1.4],[96,1.6],[100,1.35],[105,1.22],[111,1.1],[118,0.98],[126,0.87],[135,0.77],[145,0.68],[156,0.6],[168,0.52],[181,0.46],[195,0.4],[210,0.35],[225,0.31],[240,0.28],[255,0.26],[270,0.25],[280,0.25],[284,0.6],[286,0.4],[289,1.4],[291,0.8],[293,6.0],[294,13.6],[295,4.0],[297,1.8],[300,1.4],[303,2.2],[305,3.4],[307,6.4],[308,13.1],[309,4.2],[311,2.4],[314,1.9],[317,2.8],[320,2.1],[323,7.5],[324,3.0],[326,2.5],[329,3.9],[332,2.8],[335,4.6],[337,3.2],[339,5.4],[341,3.6],[344,2.9],[347,4.2],[349,3.3],[351,5.6],[353,3.6],[356,4.4],[358,6.6],[360,4.2],[362,5.2],[364,4.0]];
const SWAT_2000 = [[1,3.0],[3,4.4],[5,8.3],[6,4.0],[8,2.6],[10,3.4],[12,2.4],[14,3.2],[16,2.2],[18,2.9],[20,2.0],[22,2.7],[24,2.0],[26,3.1],[28,2.2],[30,2.8],[32,2.0],[34,3.0],[36,2.2],[38,2.7],[40,2.0],[42,3.2],[44,2.3],[46,3.6],[48,2.6],[50,3.0],[52,2.3],[54,3.4],[56,2.6],[58,4.0],[60,3.0],[62,4.6],[63,6.8],[65,4.2],[67,3.6],[68,6.2],[69,13.1],[70,5.0],[72,3.6],[74,4.6],[76,3.3],[78,4.2],[80,3.0],[82,3.6],[84,2.6],[86,3.2],[88,2.4],[90,2.9],[92,2.2],[94,2.6],[96,2.1],[98,2.4],[100,2.0],[102,2.3],[104,1.9],[106,2.7],[108,3.2],[110,2.2],[113,1.9],[117,1.7],[122,1.52],[128,1.36],[135,1.22],[143,1.08],[152,0.96],[162,0.85],[173,0.75],[185,0.66],[198,0.58],[212,0.5],[226,0.44],[240,0.39],[250,0.36],[255,1.6],[257,0.6],[262,0.4],[268,0.36],[273,1.3],[275,0.5],[282,0.4],[288,0.8],[291,0.6],[295,1.2],[298,0.9],[301,1.6],[304,1.2],[307,2.0],[310,1.5],[313,2.5],[316,1.8],[319,3.0],[321,5.2],[323,2.4],[326,1.9],[328,3.9],[330,2.3],[333,1.8],[336,2.6],[339,2.0],[342,2.9],[345,2.2],[348,3.2],[351,2.4],[354,2.9],[357,2.2],[360,3.3],[363,2.5]];
const SWAT_2001 = [[1,7.9],[2,3.2],[4,2.4],[6,3.2],[8,2.2],[10,2.9],[12,2.0],[14,2.7],[16,2.0],[18,3.0],[20,2.2],[22,3.3],[24,2.4],[26,2.9],[28,2.1],[30,2.8],[32,3.6],[34,2.6],[36,2.1],[38,2.8],[40,2.0],[42,2.6],[44,1.9],[46,3.0],[48,2.2],[50,2.8],[52,2.1],[54,3.2],[56,2.4],[58,3.7],[60,2.8],[62,4.2],[64,3.2],[66,4.8],[68,7.0],[69,12.3],[70,5.2],[72,3.4],[74,2.8],[76,3.6],[78,2.7],[80,3.2],[82,2.4],[84,3.0],[86,2.3],[88,2.8],[90,2.2],[92,2.7],[94,2.1],[96,3.0],[98,2.3],[100,3.2],[102,2.5],[104,3.4],[106,2.6],[108,3.8],[110,4.6],[112,5.4],[114,3.2],[117,2.5],[120,2.1],[124,1.85],[129,1.62],[135,1.42],[142,1.25],[150,1.1],[159,0.96],[169,0.83],[180,0.72],[192,0.62],[205,0.53],[218,0.45],[231,0.38],[244,0.32],[257,0.28],[268,0.26],[271,1.8],[272,3.7],[273,1.0],[276,0.4],[284,0.35],[290,0.7],[294,0.5],[298,1.2],[302,0.9],[306,1.7],[310,1.2],[314,2.1],[318,1.5],[321,3.7],[322,2.0],[325,1.6],[328,2.4],[331,1.8],[334,2.8],[337,2.1],[340,3.3],[343,2.5],[346,3.9],[349,2.9],[352,4.6],[355,3.4],[358,5.6],[360,4.0],[362,6.8],[364,5.0]];
const SWAT_2002 = [[1,5.2],[3,7.6],[5,4.4],[7,3.2],[9,5.0],[11,3.6],[13,4.6],[15,6.8],[17,8.0],[18,5.2],[20,3.8],[22,4.8],[24,3.4],[26,4.4],[28,3.2],[30,5.0],[32,7.8],[33,11.0],[34,5.6],[36,3.8],[38,4.6],[40,3.2],[42,4.4],[44,3.1],[46,4.0],[48,2.9],[50,4.2],[52,3.0],[54,3.8],[56,2.8],[58,3.6],[60,2.6],[62,3.4],[64,2.5],[66,3.2],[68,2.4],[70,3.0],[72,2.3],[74,3.4],[76,4.2],[78,3.0],[80,2.4],[82,3.6],[84,2.6],[86,2.1],[88,2.6],[90,2.0],[92,2.4],[94,1.9],[96,2.3],[98,1.8],[100,2.2],[103,1.75],[107,1.62],[112,1.5],[118,1.38],[125,1.26],[133,1.15],[142,1.05],[152,0.96],[163,0.88],[175,0.8],[188,0.73],[202,0.66],[216,0.6],[230,0.55],[244,0.5],[258,0.46],[272,0.43],[286,0.4],[296,0.42],[300,0.9],[303,0.6],[307,1.2],[310,0.9],[314,1.6],[317,1.2],[321,2.2],[324,1.6],[326,6.5],[327,2.4],[330,1.8],[333,2.6],[336,2.0],[339,3.0],[342,2.2],[345,3.6],[348,2.6],[351,4.2],[354,3.0],[356,7.5],[358,4.4],[360,3.4],[362,5.0],[364,3.8]];
const SWAT_2003 = [[1,7.3],[2,3.8],[4,2.8],[6,3.6],[8,2.6],[10,4.4],[12,3.2],[14,6.2],[16,4.4],[18,3.4],[20,5.8],[21,12.1],[22,6.0],[24,4.0],[26,5.2],[27,10.2],[28,5.4],[30,3.6],[32,4.6],[34,3.2],[36,4.2],[38,3.0],[40,5.0],[41,8.6],[42,4.6],[44,3.2],[46,2.6],[48,3.4],[50,2.5],[52,3.2],[54,2.4],[56,3.0],[58,2.3],[60,3.4],[62,2.6],[64,2.2],[66,2.9],[68,2.2],[70,3.6],[71,5.7],[72,3.2],[74,2.4],[76,2.0],[78,2.6],[80,3.2],[82,2.2],[84,1.9],[86,2.4],[88,1.8],[90,2.2],[93,1.75],[96,2.0],[99,1.65],[103,1.55],[108,1.45],[114,1.35],[121,1.24],[129,1.14],[138,1.04],[148,0.95],[159,0.86],[171,0.78],[184,0.7],[198,0.63],[212,0.56],[226,0.5],[240,0.45],[254,0.4],[268,0.36],[280,0.34],[286,0.6],[290,0.4],[294,0.9],[298,0.6],[302,1.3],[306,0.9],[310,1.6],[313,1.1],[317,1.9],[320,1.4],[324,2.2],[327,1.6],[330,2.6],[333,1.9],[336,3.0],[339,2.2],[342,3.4],[345,2.5],[348,4.0],[351,2.9],[354,4.6],[356,6.4],[358,3.4],[360,5.0],[362,3.8],[364,7.2]];
const SWAT_2004 = [[1,3.6],[3,5.2],[5,3.4],[7,4.8],[9,3.6],[11,6.0],[13,4.2],[15,5.4],[17,4.0],[19,6.4],[21,4.6],[23,7.8],[25,5.6],[27,9.6],[29,15.5],[30,7.0],[32,5.0],[34,6.2],[36,4.6],[38,8.8],[39,13.4],[40,6.8],[42,5.2],[44,6.6],[46,4.8],[48,7.4],[50,5.4],[52,6.8],[54,5.0],[56,8.2],[58,5.8],[60,7.2],[62,9.4],[63,5.8],[65,4.6],[67,5.8],[69,4.2],[71,5.4],[73,4.0],[75,6.0],[77,4.4],[79,5.6],[81,4.0],[83,6.2],[85,4.6],[87,7.0],[89,5.0],[91,6.4],[93,4.6],[95,8.0],[97,6.0],[99,12.0],[101,17.8],[102,9.0],[104,5.6],[106,4.4],[108,3.8],[110,4.4],[112,3.4],[115,3.0],[118,2.7],[122,2.45],[127,2.2],[133,1.98],[140,1.78],[148,1.6],[157,1.43],[167,1.28],[178,1.14],[190,1.0],[203,0.88],[216,0.78],[229,0.69],[242,0.61],[255,0.54],[268,0.48],[280,0.44],[288,0.42],[292,0.9],[295,0.6],[299,1.4],[302,1.0],[306,2.0],[309,1.4],[313,2.6],[316,1.9],[319,6.0],[320,3.0],[323,2.2],[326,3.0],[329,2.3],[332,3.5],[335,2.6],[338,4.2],[341,8.6],[342,4.0],[345,3.0],[348,3.8],[351,2.8],[354,4.4],[357,3.2],[360,5.0],[363,3.6]];
const SWAT_2005 = [[1,4.0],[3,6.4],[5,15.7],[6,6.0],[8,3.8],[10,3.0],[12,4.2],[14,3.0],[16,5.0],[18,7.0],[19,10.5],[20,5.4],[22,7.4],[23,12.8],[24,6.2],[26,4.2],[28,5.4],[30,3.8],[32,5.0],[34,3.6],[36,5.8],[38,4.2],[40,6.4],[42,4.6],[44,7.2],[46,5.2],[48,8.6],[50,6.4],[52,10.4],[54,7.6],[56,12.6],[58,15.0],[59,20.0],[60,11.0],[62,8.0],[64,6.2],[66,7.4],[68,5.6],[70,6.8],[72,5.2],[74,6.4],[76,5.0],[78,7.6],[80,12.4],[81,18.4],[82,9.0],[84,6.0],[86,4.6],[88,5.4],[90,4.0],[92,4.6],[94,3.6],[96,4.2],[98,3.3],[101,3.8],[104,3.0],[108,2.7],[112,2.45],[117,2.2],[123,2.0],[130,1.8],[138,1.6],[147,1.42],[157,1.26],[168,1.1],[180,0.96],[193,0.84],[207,0.73],[221,0.63],[235,0.55],[249,0.48],[262,0.42],[274,0.38],[284,0.36],[290,0.7],[294,0.5],[298,1.0],[302,0.8],[306,1.4],[310,1.0],[314,1.8],[318,1.3],[322,2.3],[326,1.7],[329,3.0],[332,8.3],[333,3.2],[336,2.4],[339,3.2],[342,2.4],[345,4.6],[348,14.1],[349,4.8],[351,3.0],[354,2.4],[357,3.2],[360,2.4],[363,3.0]];
const SWAT_2006 = [[1,3.8],[3,2.4],[5,3.2],[7,2.2],[9,2.9],[11,2.0],[13,2.7],[15,2.0],[17,3.0],[19,2.3],[21,2.9],[23,2.2],[25,3.4],[27,2.5],[29,3.0],[31,2.3],[33,3.6],[35,2.7],[37,3.2],[39,2.4],[41,3.8],[43,2.8],[45,3.4],[47,2.6],[49,4.0],[51,3.0],[53,3.6],[55,2.8],[57,4.4],[59,3.2],[61,5.0],[63,7.0],[64,4.2],[66,3.4],[68,4.6],[70,3.4],[72,4.0],[74,3.0],[76,3.6],[78,2.8],[80,3.4],[82,2.6],[84,3.2],[86,2.5],[88,3.4],[90,2.7],[92,3.6],[94,2.8],[96,4.0],[98,3.0],[100,4.4],[102,3.4],[104,5.2],[106,8.9],[107,4.4],[109,14.1],[110,5.0],[112,3.2],[115,2.6],[118,2.3],[122,2.05],[127,1.84],[133,1.65],[140,1.48],[148,1.32],[157,1.18],[167,1.04],[178,0.92],[190,0.81],[203,0.71],[216,0.62],[229,0.54],[242,0.47],[254,0.42],[264,0.39],[268,0.8],[271,0.6],[274,1.4],[277,1.0],[280,2.2],[283,1.6],[286,3.2],[288,6.4],[290,3.8],[292,12.8],[293,5.6],[295,4.0],[297,6.6],[298,14.9],[299,7.0],[301,4.4],[304,3.4],[307,4.6],[310,3.4],[313,5.0],[316,3.8],[319,5.6],[322,4.2],[324,6.8],[326,9.0],[328,5.4],[330,4.4],[332,6.0],[334,4.6],[336,7.2],[338,5.4],[340,8.4],[342,6.0],[344,14.2],[345,7.4],[347,5.6],[349,4.6],[351,6.4],[353,4.8],[355,7.0],[357,5.2],[359,8.0],[361,5.8],[363,6.6],[365,5.0]];

// Daily rainfall [day of year, mm/d]
const RAIN_1991 = [[2,8],[4,14],[6,5],[8,18],[10,31],[12,6],[14,11],[16,3],[18,15],[20,7],[22,22],[25,9],[27,4],[29,17],[31,12],[33,6],[36,20],[38,9],[40,3],[42,13],[44,16],[46,5],[49,11],[51,24],[53,7],[56,14],[58,4],[60,19],[62,9],[65,12],[67,5],[69,21],[71,8],[73,15],[75,26],[77,10],[79,33],[80,18],[82,7],[84,12],[87,5],[89,16],[92,8],[95,11],[98,22],[100,6],[103,20],[106,4],[109,9],[120,3],[126,4],[133,2],[140,5],[148,3],[257,23],[262,4],[266,9],[270,3],[274,12],[278,6],[282,15],[286,4],[289,10],[292,19],[295,7],[298,13],[301,5],[304,25],[307,9],[310,16],[312,40],[314,8],[317,14],[320,5],[323,18],[326,10],[329,22],[332,7],[335,13],[338,4],[341,17],[344,9],[347,26],[350,6],[353,12],[356,20],[359,8],[362,15],[364,5]];
const RAIN_1992 = [[1,10],[3,30],[5,7],[7,16],[9,5],[11,22],[13,9],[15,14],[17,4],[19,27],[21,11],[23,18],[25,6],[27,24],[29,13],[31,44],[33,16],[35,8],[37,21],[39,5],[41,14],[43,9],[46,25],[48,6],[50,12],[53,18],[55,4],[58,15],[60,8],[63,20],[66,6],[69,12],[72,3],[75,17],[78,9],[81,14],[84,5],[87,22],[90,8],[93,12],[96,4],[99,16],[102,7],[105,28],[107,10],[109,52],[111,14],[114,5],[117,9],[121,3],[233,4],[240,8],[246,3],[252,12],[258,6],[262,15],[266,5],[270,30],[273,9],[276,13],[279,4],[282,19],[285,8],[288,24],[291,6],[294,14],[297,10],[300,21],[303,5],[306,16],[309,8],[312,26],[314,12],[316,38],[318,9],[321,18],[324,6],[327,22],[330,11],[333,28],[335,52],[337,15],[340,7],[343,19],[346,10],[349,24],[352,5],[355,14],[358,30],[361,9],[364,17]];
const RAIN_1993 = [[2,8],[4,22],[6,12],[8,5],[10,34],[12,10],[14,17],[16,6],[18,25],[20,49],[22,13],[24,7],[26,19],[28,4],[30,15],[33,9],[36,23],[38,6],[41,14],[44,8],[47,20],[50,11],[52,5],[55,31],[57,12],[60,7],[63,18],[66,4],[69,13],[72,9],[75,21],[78,6],[81,10],[83,10],[86,15],[89,5],[92,12],[96,4],[100,9],[105,3],[110,7],[116,2],[122,10],[130,4],[140,8],[150,3],[160,10],[166,4],[229,21],[236,5],[242,9],[248,3],[254,12],[260,6],[265,15],[270,4],[275,10],[280,18],[284,7],[288,13],[292,5],[296,20],[300,9],[304,14],[307,29],[310,7],[313,16],[316,5],[319,22],[322,11],[325,8],[328,25],[331,13],[334,6],[337,19],[340,10],[343,28],[346,8],[349,15],[351,55],[353,20],[356,9],[359,14],[362,6],[365,18]];
const RAIN_1994 = [[2,12],[4,25],[6,8],[8,15],[10,5],[12,20],[14,9],[16,13],[18,4],[20,17],[23,36],[25,10],[27,6],[29,19],[31,12],[33,7],[35,22],[37,9],[39,14],[41,5],[43,26],[45,11],[47,17],[49,6],[51,21],[53,9],[55,30],[58,58],[60,18],[62,8],[64,14],[66,5],[69,19],[72,7],[75,11],[78,4],[81,16],[84,6],[87,10],[90,3],[93,29],[96,8],[100,5],[296,8],[300,4],[304,12],[307,6],[310,18],[313,9],[316,24],[319,10],[322,68],[324,15],[327,7],[330,20],[333,11],[337,34],[340,8],[343,16],[346,5],[349,22],[352,9],[355,13],[358,27],[361,6],[364,14]];
const RAIN_1995 = [[2,55],[4,12],[6,7],[8,20],[10,9],[12,15],[14,5],[17,24],[19,8],[21,13],[24,4],[27,18],[30,9],[33,27],[36,6],[39,14],[42,10],[45,20],[48,5],[51,12],[54,8],[57,17],[60,26],[62,37],[64,9],[67,15],[70,5],[73,22],[76,11],[79,7],[82,16],[85,4],[88,13],[91,8],[94,19],[97,6],[100,12],[102,38],[104,10],[107,5],[111,18],[115,6],[120,9],[125,3],[128,5],[278,6],[283,10],[288,4],[292,14],[296,7],[300,18],[304,5],[308,12],[312,22],[316,9],[320,33],[323,8],[326,15],[329,6],[332,20],[335,11],[338,16],[341,28],[343,45],[345,12],[348,7],[351,19],[354,10],[357,24],[360,6],[363,14]];
const RAIN_1996 = [[2,9],[4,18],[6,6],[8,13],[10,4],[12,21],[15,8],[18,14],[21,5],[24,17],[27,36],[29,10],[32,6],[35,15],[38,9],[41,22],[44,5],[47,12],[51,28],[53,8],[56,16],[59,4],[62,19],[65,9],[68,13],[71,5],[74,20],[77,7],[80,11],[84,15],[88,4],[92,9],[96,17],[100,5],[105,10],[110,3],[116,8],[122,4],[130,7],[140,3],[150,5],[224,29],[302,7],[306,14],[310,5],[313,30],[316,9],[319,17],[322,6],[325,22],[328,11],[330,37],[332,8],[335,15],[338,5],[341,19],[344,10],[347,25],[350,7],[353,14],[356,21],[359,9],[362,16],[364,6]];
const RAIN_1997 = [[2,12],[5,40],[7,8],[9,18],[11,6],[13,25],[15,60],[17,14],[19,7],[21,20],[23,10],[26,16],[28,5],[31,23],[33,9],[36,13],[39,4],[42,19],[45,8],[48,26],[50,11],[53,6],[56,17],[59,9],[62,30],[64,12],[67,5],[70,20],[73,8],[76,14],[79,28],[81,10],[83,43],[85,15],[88,6],[91,18],[94,8],[97,12],[100,4],[104,16],[108,6],[112,10],[117,22],[121,5],[126,9],[132,4],[140,12],[150,5],[160,8],[169,3],[247,5],[252,9],[258,4],[263,12],[266,26],[270,7],[274,15],[278,5],[282,18],[286,9],[290,13],[294,6],[298,20],[302,8],[306,15],[310,5],[313,22],[315,32],[318,10],[321,17],[324,6],[327,24],[330,11],[333,8],[336,19],[339,5],[342,14],[345,21],[348,9],[351,16],[355,29],[358,7],[361,13],[364,19]];
const RAIN_1998 = [[2,8],[4,22],[6,12],[8,5],[10,18],[12,9],[14,30],[16,15],[17,114],[19,24],[21,8],[23,14],[25,5],[28,19],[31,9],[34,13],[37,4],[40,21],[43,7],[46,16],[49,10],[52,5],[55,18],[58,8],[61,25],[64,12],[67,54],[69,16],[71,7],[74,20],[77,9],[80,13],[83,5],[86,17],[89,8],[92,23],[95,6],[98,11],[102,16],[106,5],[110,9],[114,4],[118,14],[121,27],[124,6],[130,10],[138,4],[146,8],[155,3],[163,6],[258,4],[264,9],[270,21],[274,6],[278,12],[282,4],[286,16],[290,8],[294,13],[298,5],[302,19],[306,9],[310,30],[313,14],[316,6],[319,22],[322,10],[325,17],[328,36],[330,49],[332,12],[335,7],[338,18],[341,9],[344,14],[347,5],[350,20],[353,11],[356,16],[359,6],[362,13],[365,8]];
const RAIN_1999 = [[2,15],[4,6],[6,20],[8,9],[10,13],[13,29],[15,8],[18,14],[21,5],[24,17],[27,9],[30,12],[33,4],[36,19],[39,7],[42,13],[45,22],[48,6],[51,11],[54,16],[57,5],[60,21],[62,35],[64,10],[67,36],[69,14],[71,6],[74,18],[77,9],[80,12],[84,5],[88,15],[92,7],[96,10],[100,4],[105,12],[110,6],[116,9],[122,3],[128,7],[132,4],[258,7],[262,12],[266,5],[270,23],[272,18],[274,56],[277,9],[280,15],[283,6],[286,20],[289,10],[292,28],[295,65],[297,14],[300,8],[302,22],[304,59],[306,16],[309,7],[312,19],[315,10],[318,25],[321,6],[324,14],[327,9],[330,21],[333,5],[336,17],[339,11],[342,28],[345,8],[348,15],[351,6],[354,20],[356,38],[358,12],[361,7],[364,18]];
const RAIN_2000 = [[2,12],[3,34],[5,20],[7,8],[9,15],[11,5],[13,22],[15,10],[17,6],[19,18],[21,9],[24,14],[27,4],[30,20],[33,8],[36,12],[39,5],[42,17],[45,9],[48,24],[51,7],[54,13],[57,5],[60,19],[63,10],[66,16],[69,38],[71,12],[73,6],[76,18],[79,9],[82,13],[85,4],[88,15],[92,7],[96,11],[100,4],[105,13],[110,5],[238,6],[244,10],[250,4],[256,13],[262,6],[268,15],[272,5],[276,10],[280,18],[284,28],[287,8],[290,14],[293,6],[296,20],[299,9],[302,13],[304,39],[306,11],[309,6],[312,17],[315,9],[318,37],[320,12],[323,6],[326,19],[329,9],[332,14],[335,5],[338,22],[341,10],[344,16],[347,6],[350,20],[353,9],[356,13],[359,26],[362,8],[364,34]];
const RAIN_2001 = [[2,14],[3,32],[5,9],[7,18],[9,6],[11,13],[14,22],[17,8],[20,15],[23,5],[26,19],[29,9],[32,12],[35,4],[38,17],[41,8],[44,24],[47,10],[50,6],[53,15],[56,9],[59,20],[62,11],[65,16],[67,28],[69,38],[71,13],[73,7],[76,17],[79,9],[82,12],[85,5],[88,20],[91,8],[95,13],[99,5],[103,16],[107,7],[111,10],[116,4],[120,12],[125,5],[241,8],[246,4],[250,12],[253,23],[256,6],[260,14],[264,5],[268,10],[272,16],[276,6],[280,12],[284,20],[288,8],[292,14],[296,5],[300,18],[304,9],[308,13],[312,24],[315,8],[318,15],[321,6],[324,19],[327,10],[330,14],[333,5],[336,22],[339,9],[342,16],[345,7],[348,20],[351,11],[354,33],[356,14],[359,8],[362,18],[365,10]];
const RAIN_2002 = [[2,15],[4,7],[6,20],[8,10],[10,14],[12,5],[14,24],[16,9],[18,16],[20,6],[22,19],[24,11],[26,28],[28,8],[30,14],[32,6],[34,22],[36,12],[37,41],[39,15],[41,7],[44,18],[47,9],[50,13],[53,4],[56,20],[59,8],[62,12],[65,5],[68,17],[71,9],[74,13],[77,5],[79,22],[81,29],[83,9],[86,14],[89,6],[92,11],[96,4],[100,8],[248,5],[254,10],[260,4],[266,13],[272,6],[278,9],[284,15],[288,5],[292,12],[296,8],[300,18],[304,7],[307,13],[309,32],[312,9],[315,16],[318,6],[321,20],[324,10],[327,14],[330,6],[333,22],[336,9],[339,15],[342,26],[345,8],[348,37],[350,14],[353,7],[356,19],[359,10],[362,24],[365,8]];
const RAIN_2003 = [[2,14],[4,6],[6,19],[8,9],[10,13],[11,28],[13,40],[15,12],[17,7],[19,18],[21,24],[23,9],[25,14],[27,5],[29,20],[31,10],[33,15],[35,6],[38,17],[41,8],[44,12],[47,5],[50,19],[53,9],[56,14],[59,5],[62,16],[65,8],[68,12],[71,22],[73,7],[76,13],[79,5],[82,15],[86,8],[90,11],[95,4],[100,9],[230,5],[238,9],[246,4],[254,11],[262,5],[270,13],[276,6],[282,9],[288,16],[292,6],[296,12],[300,8],[303,19],[305,23],[308,9],[311,15],[314,6],[317,18],[320,10],[323,13],[326,5],[329,21],[332,9],[335,15],[338,7],[341,19],[344,11],[347,26],[350,8],[353,16],[356,22],[359,10],[362,18],[365,9]];
const RAIN_2004 = [[2,20],[4,8],[5,36],[7,14],[9,6],[11,18],[13,10],[15,24],[17,7],[19,15],[21,30],[23,12],[25,19],[27,8],[29,26],[31,11],[33,16],[35,41],[37,13],[39,22],[41,30],[43,9],[45,17],[47,6],[50,20],[53,10],[56,14],[59,24],[61,8],[64,16],[67,6],[70,19],[73,9],[76,13],[79,5],[82,17],[85,9],[88,12],[91,20],[94,27],[96,10],[99,30],[101,16],[104,7],[108,12],[112,5],[117,9],[122,4],[128,8],[135,3],[142,6],[147,3],[275,6],[280,11],[285,5],[290,14],[295,7],[300,19],[304,8],[308,13],[312,5],[316,17],[320,9],[323,22],[325,40],[328,12],[331,7],[334,18],[337,9],[340,25],[343,11],[346,16],[349,6],[352,21],[355,10],[358,14],[361,28],[363,9],[365,39]];
const RAIN_2005 = [[2,16],[4,8],[6,22],[8,11],[10,17],[12,6],[14,25],[16,10],[18,14],[20,45],[22,12],[24,7],[26,20],[28,9],[30,15],[32,45],[34,11],[36,18],[38,7],[40,23],[42,12],[44,28],[46,9],[48,17],[50,35],[52,12],[54,47],[55,20],[57,80],[59,24],[61,11],[63,18],[65,7],[67,21],[69,10],[71,15],[73,6],[75,19],[77,9],[80,30],[82,54],[84,14],[86,7],[89,16],[92,8],[95,12],[99,5],[103,14],[107,6],[112,10],[117,4],[123,12],[130,5],[138,8],[146,3],[155,6],[165,3],[175,5],[219,8],[224,5],[227,43],[232,9],[238,4],[244,12],[250,6],[256,10],[260,15],[264,5],[270,13],[275,7],[280,17],[284,6],[288,11],[292,20],[296,8],[300,14],[304,5],[308,18],[312,9],[316,13],[320,22],[323,37],[325,10],[328,16],[330,38],[332,7],[335,19],[338,10],[341,14],[344,5],[347,22],[350,11],[353,16],[356,6],[359,19],[362,9],[365,13]];
const RAIN_2006 = [[2,10],[4,18],[6,7],[8,14],[10,5],[12,20],[14,9],[16,13],[18,4],[20,17],[22,8],[24,22],[26,11],[28,6],[30,15],[32,9],[34,19],[36,5],[38,14],[40,24],[42,8],[44,12],[46,5],[48,18],[50,10],[52,14],[54,6],[56,21],[58,11],[60,30],[62,61],[64,16],[66,8],[68,13],[70,22],[72,9],[75,15],[78,6],[81,19],[84,10],[87,14],[90,5],[93,20],[96,9],[99,26],[101,14],[102,51],[104,10],[107,6],[110,16],[114,5],[118,10],[122,25],[126,4],[131,8],[220,6],[226,10],[232,4],[238,12],[244,5],[250,9],[256,14],[262,6],[268,11],[272,18],[276,8],[279,44],[282,63],[284,15],[287,9],[290,20],[293,7],[296,14],[298,57],[300,50],[302,12],[305,18],[308,7],[311,22],[314,10],[317,15],[320,6],[323,25],[326,11],[329,17],[332,8],[335,20],[338,63],[340,14],[343,9],[346,23],[349,11],[352,16],[355,45],[357,8],[360,19],[363,12],[365,27]];

// ---------------- BUILD ----------------
const OBS = {1991:OBS_1991,1992:OBS_1992,1993:OBS_1993,1994:OBS_1994,1995:OBS_1995,1996:OBS_1996,1997:OBS_1997,1998:OBS_1998,1999:OBS_1999,2000:OBS_2000,2001:OBS_2001,2002:OBS_2002,2003:OBS_2003,2004:OBS_2004,2005:OBS_2005,2006:OBS_2006};
const SWAT = {1991:SWAT_1991,1992:SWAT_1992,1993:SWAT_1993,1994:SWAT_1994,1995:SWAT_1995,1996:SWAT_1996,1997:SWAT_1997,1998:SWAT_1998,1999:SWAT_1999,2000:SWAT_2000,2001:SWAT_2001,2002:SWAT_2002,2003:SWAT_2003,2004:SWAT_2004,2005:SWAT_2005,2006:SWAT_2006};
const RAIN = {1991:RAIN_1991,1992:RAIN_1992,1993:RAIN_1993,1994:RAIN_1994,1995:RAIN_1995,1996:RAIN_1996,1997:RAIN_1997,1998:RAIN_1998,1999:RAIN_1999,2000:RAIN_2000,2001:RAIN_2001,2002:RAIN_2002,2003:RAIN_2003,2004:RAIN_2004,2005:RAIN_2005,2006:RAIN_2006};

function build(years, table) {
  const out = [];
  years.forEach(y => table[y].forEach(p => out.push([Date.UTC(y, 0, p[0]), p[1]])));
  return out;
}
const MONTH_IDX = {Jan:0,Feb:1,Mar:2,Apr:3,May:4,Jun:5,Jul:6,Aug:7,Sep:8,Oct:9,Nov:10,Dec:11};
function tickTime(lbl) { const [m, y] = lbl.split('-'); return Date.UTC(+y, MONTH_IDX[m], 1); }
const LABEL_MAP = {};
TICKS_VALIDATION.concat(TICKS_CALIBRATION).forEach(l => { LABEL_MAP[tickTime(l)] = l; });
const TV = TICKS_VALIDATION.map(tickTime);
const TC = TICKS_CALIBRATION.map(tickTime);

const T0 = Date.UTC(YEARS_VALIDATION[0], 0, 1);
const T1 = Date.UTC(YEARS_CALIBRATION[0], 0, 1);
const T2 = Date.UTC(YEARS_CALIBRATION[YEARS_CALIBRATION.length - 1] + 1, 0, 1);

const FONT = 'Liberation Sans, Arial, Helvetica, sans-serif';
const AX = '#000';

// layout (pixels)
const L = 76, BRK_L = 626, BRK_R = 632.5, R = 1059;
const RAIN_TOP = 13, MID = 189, BOT = 602.5;

function xAx(gi, min, max, ticks, pos, labels) {
  return {
    type: 'value', gridIndex: gi, min: min, max: max, position: pos,
    axisLine: {show: true, onZero: false, lineStyle: {color: AX, width: 1.5}},
    axisTick: {show: !!ticks, inside: true, length: 5, customValues: ticks || [], lineStyle: {color: AX, width: 1.2}},
    axisLabel: labels ? {show: true, customValues: ticks, rotate: 90, margin: 9, fontSize: 20, fontFamily: FONT, color: '#000',
      formatter: v => LABEL_MAP[v] || ''} : {show: false},
    splitLine: {show: false}
  };
}

const OBS_STYLE = {
  symbol: 'circle', symbolSize: 7, showSymbol: true, showAllSymbol: true,
  itemStyle: {color: 'rgba(255,255,255,0)', borderColor: '#000', borderWidth: 1},
  lineStyle: {color: '#808080', width: 1}
};
const SWAT_STYLE = {showSymbol: false, symbol: 'none', itemStyle: {color: '#ff0000'}, lineStyle: {color: '#ff0000', width: 1}};
const RAIN_STYLE = {barWidth: 1, itemStyle: {color: 'rgba(0,0,190,0.6)'}};

const option = {
  animation: false,
  backgroundColor: '#fff',
  grid: [
    {left: L, top: RAIN_TOP, width: BRK_L - L, height: MID - RAIN_TOP},
    {left: BRK_R, top: RAIN_TOP, width: R - BRK_R, height: MID - RAIN_TOP},
    {left: L, top: MID, width: BRK_L - L, height: BOT - MID},
    {left: BRK_R, top: MID, width: R - BRK_R, height: BOT - MID}
  ],
  xAxis: [
    xAx(0, T0, T1, TV, 'top', false),
    xAx(1, T1, T2, TC, 'top', false),
    xAx(2, T0, T1, TV, 'bottom', true),
    xAx(3, T1, T2, TC, 'bottom', true),
    xAx(2, T0, T1, null, 'top', false),
    xAx(3, T1, T2, null, 'top', false)
  ],
  yAxis: [
    {type: 'value', gridIndex: 0, min: 0, max: 120, inverse: true, position: 'left',
      axisLine: {show: true, lineStyle: {color: AX, width: 1.5}},
      axisTick: {show: true, inside: true, length: 5, customValues: RAIN_TICKS, lineStyle: {color: AX, width: 1.2}},
      axisLabel: {show: false}, splitLine: {show: false}},
    {type: 'value', gridIndex: 1, min: 0, max: 120, inverse: true, position: 'right',
      axisLine: {show: true, lineStyle: {color: AX, width: 1.5}},
      axisTick: {show: true, inside: true, length: 5, customValues: RAIN_TICKS, lineStyle: {color: AX, width: 1.2}},
      axisLabel: {show: true, customValues: RAIN_TICKS, margin: 12, fontSize: 20, fontFamily: FONT, color: '#000'},
      name: 'Rainfall [mm/d]', nameLocation: 'middle', nameRotate: 90, nameGap: 62,
      nameTextStyle: {fontSize: 20, fontFamily: FONT, color: '#000'},
      splitLine: {show: false}},
    {type: 'value', gridIndex: 2, min: 0, max: 35, position: 'left',
      axisLine: {show: true, lineStyle: {color: AX, width: 1.5}},
      axisTick: {show: true, inside: true, length: 5, customValues: FLOW_TICKS, lineStyle: {color: AX, width: 1.2}},
      axisLabel: {show: true, customValues: FLOW_TICKS, margin: 12, fontSize: 20, fontFamily: FONT, color: '#000'},
      name: 'Streamflow [m\u00B2/s]', nameLocation: 'middle', nameRotate: 90, nameGap: 46,
      nameTextStyle: {fontSize: 19, fontFamily: FONT, color: '#000', padding: [0, 0, 0, -12]},
      splitLine: {show: false}},
    {type: 'value', gridIndex: 3, min: 0, max: 35, position: 'right',
      axisLine: {show: true, lineStyle: {color: AX, width: 1.5}},
      axisTick: {show: true, inside: true, length: 5, customValues: FLOW_TICKS, lineStyle: {color: AX, width: 1.2}},
      axisLabel: {show: false}, splitLine: {show: false}}
  ],
  legend: {
    data: [{name: SERIES_NAMES[0]}, {name: SERIES_NAMES[1], itemStyle: {opacity: 0}}],
    orient: 'vertical', left: 690, top: 266,
    itemWidth: 33, itemHeight: 8, itemGap: 6,
    padding: [5, 8, 5, 10],
    borderColor: '#000', borderWidth: 1,
    textStyle: {fontSize: 20, fontFamily: FONT, color: '#000', padding: [0, 0, 0, 4]}
  },
  graphic: [
    {type: 'text', left: 513, top: 218, style: {text: PERIOD_LABELS[0], font: '21px ' + FONT, fill: '#000'}},
    {type: 'text', left: 643, top: 218, style: {text: PERIOD_LABELS[1], font: '21px ' + FONT, fill: '#000'}}
  ].concat([RAIN_TOP, MID, BOT].flatMap(y => [BRK_L, BRK_R].map(x => ({
    type: 'line', shape: {x1: x, y1: y - 5, x2: x, y2: y + 5}, style: {stroke: '#000', lineWidth: 1.3}
  })))),
  series: [
    Object.assign({name: 'Rainfall', type: 'bar', xAxisIndex: 0, yAxisIndex: 0, data: build(YEARS_VALIDATION, RAIN)}, RAIN_STYLE),
    Object.assign({name: 'Rainfall', type: 'bar', xAxisIndex: 1, yAxisIndex: 1, data: build(YEARS_CALIBRATION, RAIN)}, RAIN_STYLE),
    Object.assign({name: SERIES_NAMES[0], type: 'line', xAxisIndex: 2, yAxisIndex: 2, data: build(YEARS_VALIDATION, OBS)}, OBS_STYLE),
    Object.assign({name: SERIES_NAMES[0], type: 'line', xAxisIndex: 3, yAxisIndex: 3, data: build(YEARS_CALIBRATION, OBS)}, OBS_STYLE),
    Object.assign({name: SERIES_NAMES[1], type: 'line', xAxisIndex: 2, yAxisIndex: 2, data: build(YEARS_VALIDATION, SWAT)}, SWAT_STYLE),
    Object.assign({name: SERIES_NAMES[1], type: 'line', xAxisIndex: 3, yAxisIndex: 3, data: build(YEARS_CALIBRATION, SWAT)}, SWAT_STYLE)
  ]
};

const chart = echarts.init(document.getElementById('chart'), null, {renderer: 'canvas'});
chart.setOption(option);
</script>
</body>
</html>
